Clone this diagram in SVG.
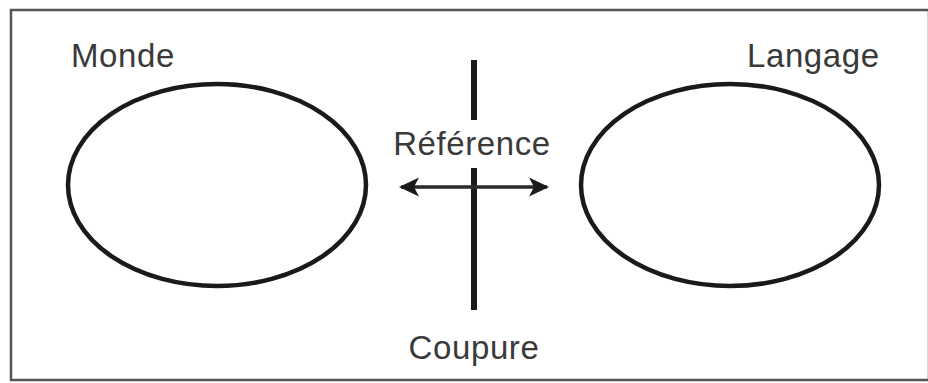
<svg xmlns="http://www.w3.org/2000/svg" width="928" height="383" viewBox="0 0 928 383">
  <style>
    .frame { fill: #fff; stroke: #555; stroke-width: 2.5; }
    .blob { fill: none; stroke: #1a1a1a; stroke-width: 4.5; }
    .lbl { font-family: "Liberation Sans", Arial, sans-serif; font-size: 33px; letter-spacing: 0.6px; fill: #3a3a3a; }
    .cut { stroke: #1a1a1a; stroke-width: 6; }
    .ref { stroke: #2a2a2a; stroke-width: 3.5; fill: none; }
  </style>
  <defs>
    <marker id="head" viewBox="0 0 20 20" refX="18" refY="10" markerWidth="20" markerHeight="20" markerUnits="userSpaceOnUse" orient="auto-start-reverse">
      <path d="M0,0.5 L20,10 L0,19.5 L5,10 Z" fill="#1a1a1a"/>
    </marker>
  </defs>
  <rect x="0" y="0" width="928" height="383" fill="#fff"/>
  <rect class="frame" x="11" y="10" width="918" height="370"/>

  <g id="monde">
    <ellipse class="blob" cx="217" cy="185" rx="149" ry="101"/>
    <text class="lbl" x="71" y="67">Monde</text>
  </g>

  <g id="langage">
    <ellipse class="blob" cx="730" cy="185" rx="149" ry="101"/>
    <text class="lbl" x="747" y="67">Langage</text>
  </g>

  <g id="coupure">
    <line class="cut" x1="474" y1="60" x2="474" y2="120"/>
    <line class="cut" x1="474" y1="168" x2="474" y2="310"/>
    <text class="lbl" x="474" y="359" text-anchor="middle">Coupure</text>
  </g>

  <g id="connectors">
    <line class="ref" x1="401" y1="187" x2="547" y2="187" marker-start="url(#head)" marker-end="url(#head)"/>
    <text class="lbl" x="472" y="155" text-anchor="middle">Référence</text>
  </g>
</svg>
